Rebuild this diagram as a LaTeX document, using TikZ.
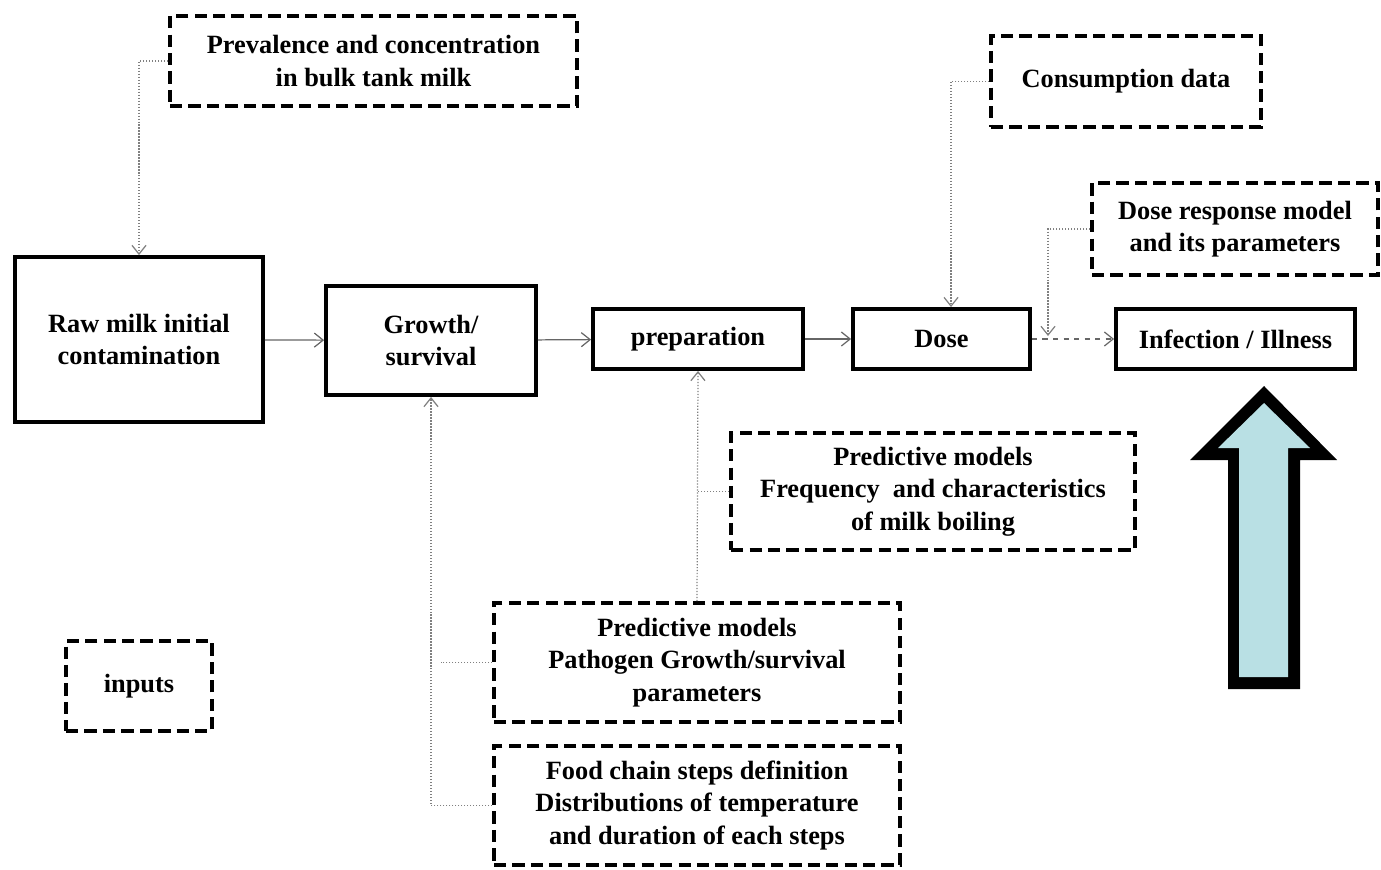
\documentclass[tikz,border=0pt]{standalone}
\usepackage{fontspec}
\setmainfont{Liberation Serif}
\usetikzlibrary{arrows.meta}
\definecolor{arrowfill}{RGB}{185,224,228}

\begin{document}
\begin{tikzpicture}[x=0.02cm,y=-0.02cm,font=\bfseries\fontsize{15}{18.5}\selectfont,
  stage/.style={draw,line width=2.2pt,align=center,inner sep=2pt},
  inbox/.style={stage,dash pattern=on 7pt off 3.5pt},
  flow/.style={draw=black!60,line width=0.7pt,-{Straight Barb[length=5pt,width=8pt]}},
  feed/.style={flow,draw=black!50,densely dotted}]
\useasboundingbox (0,0) rectangle (1381,869);
\node[stage,minimum width=4.96cm,minimum height=3.3cm] (raw) at (139,339.5) {Raw milk initial\\contamination};
\node[stage,minimum width=4.2cm,minimum height=2.18cm] (grow) at (431,340.5) {Growth/\\survival};
\node[stage,minimum width=4.2cm,minimum height=1.2cm] (prep) at (698,339) {preparation};
\node[stage,minimum width=3.54cm,minimum height=1.2cm] (dose) at (941.5,339) {Dose};
\node[stage,minimum width=4.78cm,minimum height=1.2cm] (ill) at (1235.5,339) {Infection / Illness};
\node[inbox,minimum width=8.14cm,minimum height=1.8cm] (prev) at (373.5,61) {Prevalence and concentration\\in bulk tank milk};
\node[inbox,minimum width=5.4cm,minimum height=1.82cm] (cons) at (1126,81.5) {Consumption data};
\node[inbox,minimum width=5.72cm,minimum height=1.84cm] (dr) at (1235,229) {Dose response model\\and its parameters};
\node[inbox,minimum width=8.08cm,minimum height=2.34cm] (freq) at (933,491.5) {Predictive models\\Frequency~ and characteristics\\of milk boiling};
\node[inbox,minimum width=8.12cm,minimum height=2.38cm] (path) at (697,662.5) {Predictive models\\Pathogen Growth/survival\\parameters};
\node[inbox,minimum width=8.12cm,minimum height=2.38cm] (food) at (697,805.5) {Food chain steps definition\\Distributions of temperature\\and duration of each steps};
\node[inbox,minimum width=2.92cm,minimum height=1.8cm] (inp) at (139,686) {inputs};
\coordinate (mrg) at (1048,336);
\draw[flow] (raw) -- (grow);
\draw[flow] (grow) -- (prep);
\draw[flow] (prep) -- (dose);
\draw[flow,dashed] (dose) -- (ill);
\draw[feed] (prev.west) -| (raw.north);
\draw[feed] (cons.west) -| ([xshift=0.19cm]dose.north);
\draw[feed] (dr.west) -| (mrg);
\draw[feed] (food.west) -| (grow.south);
\draw[feed,-] (path.west) -- ([xshift=0.2cm]path.west -| grow.south);
\draw[feed] (path.north) -- (prep.south);
\draw[feed,-] (freq.west) -- (freq.west -| prep.south);
\fill[black] (1264,386) -- (1337,460) -- (1300,460) -- (1300,689) -- (1228,689) -- (1228,460) -- (1190,460) -- cycle;
\fill[arrowfill] (1264,403) -- (1310,448) -- (1288,448) -- (1288,677) -- (1239,677) -- (1239,448) -- (1218,448) -- cycle;
\end{tikzpicture}
\end{document}
